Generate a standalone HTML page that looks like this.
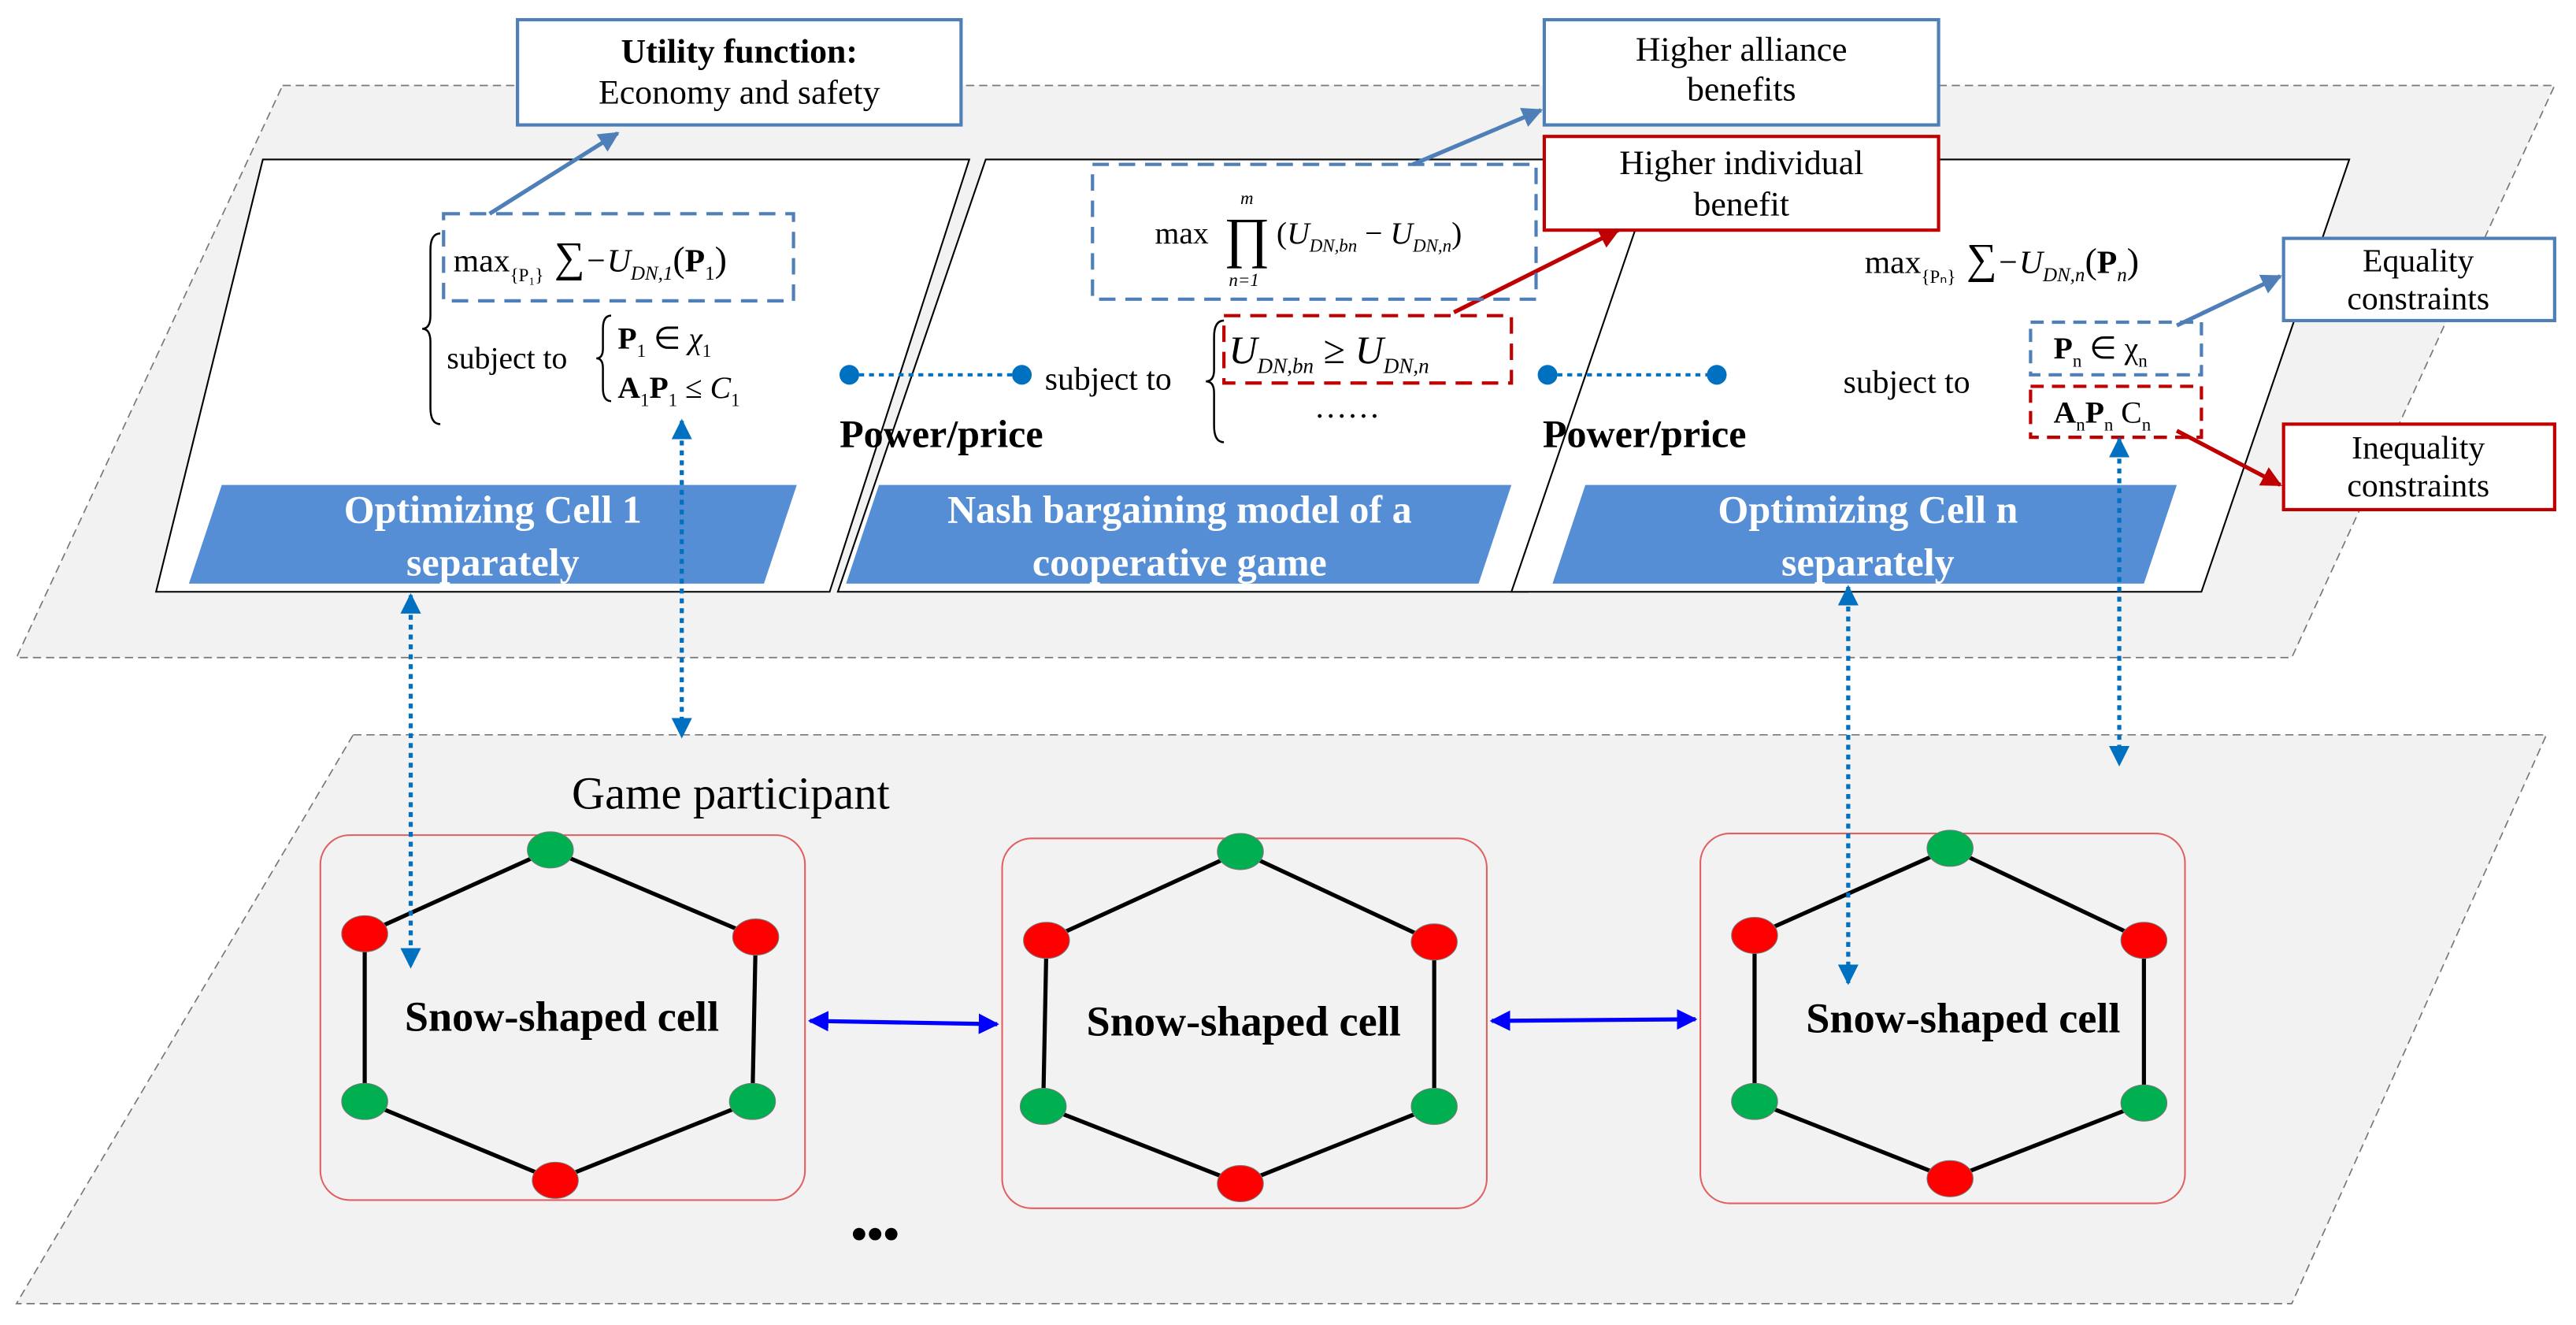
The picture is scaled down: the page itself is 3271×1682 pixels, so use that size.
<!DOCTYPE html>
<html><head><meta charset="utf-8"><style>html,body{margin:0;padding:0;background:#fff}svg{display:block}</style></head>
<body>
<svg width="3271" height="1682" viewBox="0 0 1568 806" preserveAspectRatio="none" xmlns="http://www.w3.org/2000/svg" font-family="Liberation Serif, serif">
<defs>
<marker id="ab" viewBox="0 0 10 10" refX="9" refY="5" markerWidth="5" markerHeight="5" orient="auto-start-reverse"><path d="M0,0L10,5L0,10z" fill="#0070c0"/></marker>
<marker id="as" viewBox="0 0 10 10" refX="9" refY="5" markerWidth="5" markerHeight="5" orient="auto"><path d="M0,0L10,5L0,10z" fill="#4f7fb8"/></marker>
<marker id="ar" viewBox="0 0 10 10" refX="9" refY="5" markerWidth="5" markerHeight="5" orient="auto"><path d="M0,0L10,5L0,10z" fill="#c00000"/></marker>
<marker id="au" viewBox="0 0 10 10" refX="9" refY="5" markerWidth="5" markerHeight="5" orient="auto-start-reverse"><path d="M0,0L10,5L0,10z" fill="#0000ff"/></marker>
</defs>
<polygon points="172,52 1555,52 1395,400 10,400" fill="#f2f2f2" stroke="#777" stroke-dasharray="5,3" stroke-width="0.8"/>
<polygon points="215,447 1550,447 1395,793 10,793" fill="#f2f2f2" stroke="#777" stroke-dasharray="5,3" stroke-width="0.8"/>
<polygon points="160,97 590,97 505,360 95,360" fill="#fff" stroke="#000" stroke-width="1"/>
<polygon points="600,97 1015,97 930,360 510,360" fill="#fff" stroke="#000" stroke-width="1"/>
<polygon points="1010,97 1430,97 1340,360 920,360" fill="#fff" stroke="#000" stroke-width="1"/>
<g fill="#558ed5">
<polygon points="135,295 485,295 465,355 115,355"/>
<polygon points="535,295 920,295 900,355 515,355"/>
<polygon points="965,295 1325,295 1305,355 945,355"/>
</g>
<g fill="#fff" font-weight="bold" font-size="24" text-anchor="middle">
<text x="300" y="318">Optimizing Cell 1</text><text x="300" y="350">separately</text>
<text x="718" y="318">Nash bargaining model of a</text><text x="718" y="350">cooperative game</text>
<text x="1137" y="318">Optimizing Cell n</text><text x="1137" y="350">separately</text>
</g>
<rect x="315" y="12" width="270" height="64" fill="#fff" stroke="#4f7fb8" stroke-width="2"/>
<text x="450" y="38" text-anchor="middle" font-size="21" font-weight="bold">Utility function:</text>
<text x="450" y="63" text-anchor="middle" font-size="21">Economy and safety</text>
<rect x="940" y="12" width="240" height="64" fill="#fff" stroke="#4f7fb8" stroke-width="2"/>
<text x="1060" y="37" text-anchor="middle" font-size="21">Higher alliance</text>
<text x="1060" y="61" text-anchor="middle" font-size="21">benefits</text>
<rect x="940" y="83" width="240" height="57" fill="#fff" stroke="#c00000" stroke-width="2"/>
<text x="1060" y="106" text-anchor="middle" font-size="21">Higher individual</text>
<text x="1060" y="131" text-anchor="middle" font-size="21">benefit</text>
<rect x="1390" y="145" width="165" height="50" fill="#fff" stroke="#4f7fb8" stroke-width="2"/>
<text x="1472" y="165" text-anchor="middle" font-size="20">Equality</text>
<text x="1472" y="188" text-anchor="middle" font-size="20">constraints</text>
<rect x="1390" y="258" width="165" height="52" fill="#fff" stroke="#c00000" stroke-width="2"/>
<text x="1472" y="279" text-anchor="middle" font-size="20">Inequality</text>
<text x="1472" y="302" text-anchor="middle" font-size="20">constraints</text>
<line x1="298" y1="130" x2="376" y2="81" stroke="#4f7fb8" stroke-width="2.5" marker-end="url(#as)"/>
<line x1="860" y1="100" x2="938" y2="67" stroke="#4f7fb8" stroke-width="2.5" marker-end="url(#as)"/>
<line x1="885" y1="190" x2="985" y2="140" stroke="#c00000" stroke-width="2.5" marker-end="url(#ar)"/>
<line x1="1325" y1="198" x2="1388" y2="168" stroke="#4f7fb8" stroke-width="2.5" marker-end="url(#as)"/>
<line x1="1325" y1="262" x2="1388" y2="295" stroke="#c00000" stroke-width="2.5" marker-end="url(#ar)"/>
<rect x="270" y="130" width="213" height="53" fill="none" stroke="#4f7fb8" stroke-width="2" stroke-dasharray="10,6"/>
<path d="M268,142 q-6,0 -6,10 v40 q0,8 -5,8 q5,0 5,8 v40 q0,10 6,10" fill="none" stroke="#000" stroke-width="1.2"/>
<text x="276" y="165" font-size="20">max<tspan font-size="11" dy="6">{P₁}</tspan><tspan dy="-6" font-size="26"> ∑</tspan><tspan font-style="italic">−U</tspan><tspan font-size="12" font-style="italic" dy="5">DN,1</tspan><tspan dy="-5" font-size="22">(</tspan><tspan font-weight="bold">P</tspan><tspan font-size="12" dy="5">1</tspan><tspan dy="-5" font-size="22">)</tspan></text>
<text x="272" y="224" font-size="19">subject to</text>
<path d="M372,192 q-5,0 -5,8 v12 q0,6 -4,6 q4,0 4,6 v12 q0,8 5,8" fill="none" stroke="#000" stroke-width="1.2"/>
<text x="376" y="212" font-size="19"><tspan font-weight="bold">P</tspan><tspan font-size="11" dy="5">1</tspan><tspan dy="-5"> ∈ </tspan><tspan font-style="italic">χ</tspan><tspan font-size="11" dy="5">1</tspan></text>
<text x="376" y="242" font-size="19"><tspan font-weight="bold">A</tspan><tspan font-size="11" dy="5">1</tspan><tspan dy="-5" font-weight="bold">P</tspan><tspan font-size="11" dy="5">1</tspan><tspan dy="-5"> ≤ </tspan><tspan font-style="italic">C</tspan><tspan font-size="11" dy="5">1</tspan></text>

<rect x="665" y="100" width="270" height="82" fill="none" stroke="#4f7fb8" stroke-width="2" stroke-dasharray="10,6"/>
<text x="703" y="148" font-size="19">max</text>
<text x="745" y="156" font-size="34">∏</text>
<text x="755" y="124" font-size="11" font-style="italic">m</text>
<text x="748" y="174" font-size="11" font-style="italic">n=1</text>
<text x="777" y="148" font-size="19">(<tspan font-style="italic">U</tspan><tspan font-size="11" font-style="italic" dy="5">DN,bn</tspan><tspan dy="-5"> − </tspan><tspan font-style="italic">U</tspan><tspan font-size="11" font-style="italic" dy="5">DN,n</tspan><tspan dy="-5">)</tspan></text>
<text x="636" y="237" font-size="20">subject to</text>
<path d="M745,195 q-6,0 -6,10 v20 q0,7 -5,7 q5,0 5,7 v20 q0,10 6,10" fill="none" stroke="#000" stroke-width="1.2"/>
<rect x="745" y="192" width="175" height="41" fill="none" stroke="#c00000" stroke-width="2" stroke-dasharray="10,6"/>
<text x="748" y="221" font-size="24"><tspan font-style="italic">U</tspan><tspan font-size="13" font-style="italic" dy="6">DN,bn</tspan><tspan dy="-6"> ≥ </tspan><tspan font-style="italic">U</tspan><tspan font-size="13" font-style="italic" dy="6">DN,n</tspan></text>
<text x="800" y="254" font-size="20">……</text>

<text x="1135" y="166" font-size="20">max<tspan font-size="11" dy="6">{Pₙ}</tspan><tspan dy="-6" font-size="26"> ∑</tspan><tspan font-style="italic">−U</tspan><tspan font-size="12" font-style="italic" dy="5">DN,n</tspan><tspan dy="-5" font-size="22">(</tspan><tspan font-weight="bold">P</tspan><tspan font-size="12" font-style="italic" dy="5">n</tspan><tspan dy="-5" font-size="22">)</tspan></text>
<text x="1122" y="239" font-size="20">subject to</text>
<rect x="1236" y="196" width="104" height="32" fill="none" stroke="#4f7fb8" stroke-width="2" stroke-dasharray="8,5"/>
<text x="1250" y="218" font-size="19"><tspan font-weight="bold">P</tspan><tspan font-size="11" dy="5">n</tspan><tspan dy="-5"> ∈ χ</tspan><tspan font-size="11" dy="5">n</tspan></text>
<rect x="1236" y="235" width="104" height="31" fill="none" stroke="#c00000" stroke-width="2" stroke-dasharray="8,5"/>
<text x="1250" y="257" font-size="19"><tspan font-weight="bold">A</tspan><tspan font-size="11" dy="5">n</tspan><tspan dy="-5" font-weight="bold">P</tspan><tspan font-size="11" dy="5">n</tspan><tspan dy="-5">    C</tspan><tspan font-size="11" dy="5">n</tspan></text>
<g stroke="#0070c0" stroke-width="2" stroke-dasharray="3,3"><line x1="517" y1="228" x2="622" y2="228"/><line x1="942" y1="228" x2="1045" y2="228"/></g>
<g fill="#0070c0"><circle cx="517" cy="228" r="6"/><circle cx="622" cy="228" r="6"/><circle cx="942" cy="228" r="6"/><circle cx="1045" cy="228" r="6"/></g>
<text x="573" y="272" text-anchor="middle" font-size="24" font-weight="bold">Power/price</text>
<text x="1001" y="272" text-anchor="middle" font-size="24" font-weight="bold">Power/price</text>
<text x="348" y="492" font-size="28">Game participant</text>
<g fill="#f2f2f2" stroke="#e06060" stroke-width="1"><rect x="195" y="508" width="295" height="222" rx="18"/><rect x="610" y="510" width="295" height="225" rx="18"/><rect x="1035" y="507" width="295" height="225" rx="18"/></g>
<g stroke="#000" stroke-width="2.5" fill="none">
<polygon points="335,517 460,570 458,670 338,718 222,670 222,568"/>
<polygon points="755,518 873,573 873,673 755,720 635,673 637,572"/>
<polygon points="1187,516 1305,572 1305,671 1187,717 1068,670 1068,569"/>
</g>
<g stroke="#777" stroke-width="0.5">
<g fill="#00b050"><ellipse cx="335" cy="517" rx="14" ry="11"/><ellipse cx="222" cy="670" rx="14" ry="11"/><ellipse cx="458" cy="670" rx="14" ry="11"/>
<ellipse cx="755" cy="518" rx="14" ry="11"/><ellipse cx="635" cy="673" rx="14" ry="11"/><ellipse cx="873" cy="673" rx="14" ry="11"/>
<ellipse cx="1187" cy="516" rx="14" ry="11"/><ellipse cx="1068" cy="670" rx="14" ry="11"/><ellipse cx="1305" cy="671" rx="14" ry="11"/></g>
<g fill="#ff0000"><ellipse cx="222" cy="568" rx="14" ry="11"/><ellipse cx="460" cy="570" rx="14" ry="11"/><ellipse cx="338" cy="718" rx="14" ry="11"/>
<ellipse cx="637" cy="572" rx="14" ry="11"/><ellipse cx="873" cy="573" rx="14" ry="11"/><ellipse cx="755" cy="720" rx="14" ry="11"/>
<ellipse cx="1068" cy="569" rx="14" ry="11"/><ellipse cx="1305" cy="572" rx="14" ry="11"/><ellipse cx="1187" cy="717" rx="14" ry="11"/></g>
</g>
<g font-size="26" font-weight="bold" text-anchor="middle">
<text x="342" y="627">Snow-shaped cell</text><text x="757" y="630">Snow-shaped cell</text><text x="1195" y="628">Snow-shaped cell</text>
</g>
<text x="518" y="760" font-size="28" font-weight="bold">•••</text>
<g stroke="#0000ff" stroke-width="2.5"><line x1="493" y1="621" x2="607" y2="623" marker-start="url(#au)" marker-end="url(#au)"/><line x1="908" y1="621" x2="1032" y2="620" marker-start="url(#au)" marker-end="url(#au)"/></g>
<g stroke="#0070c0" stroke-width="2.5" stroke-dasharray="3,3">
<line x1="250" y1="362" x2="250" y2="588" marker-start="url(#ab)" marker-end="url(#ab)"/>
<line x1="415" y1="256" x2="415" y2="448" marker-start="url(#ab)" marker-end="url(#ab)"/>
<line x1="1125" y1="357" x2="1125" y2="598" marker-start="url(#ab)" marker-end="url(#ab)"/>
<line x1="1290" y1="267" x2="1290" y2="465" marker-start="url(#ab)" marker-end="url(#ab)"/>
</g>
</svg>
</body></html>
